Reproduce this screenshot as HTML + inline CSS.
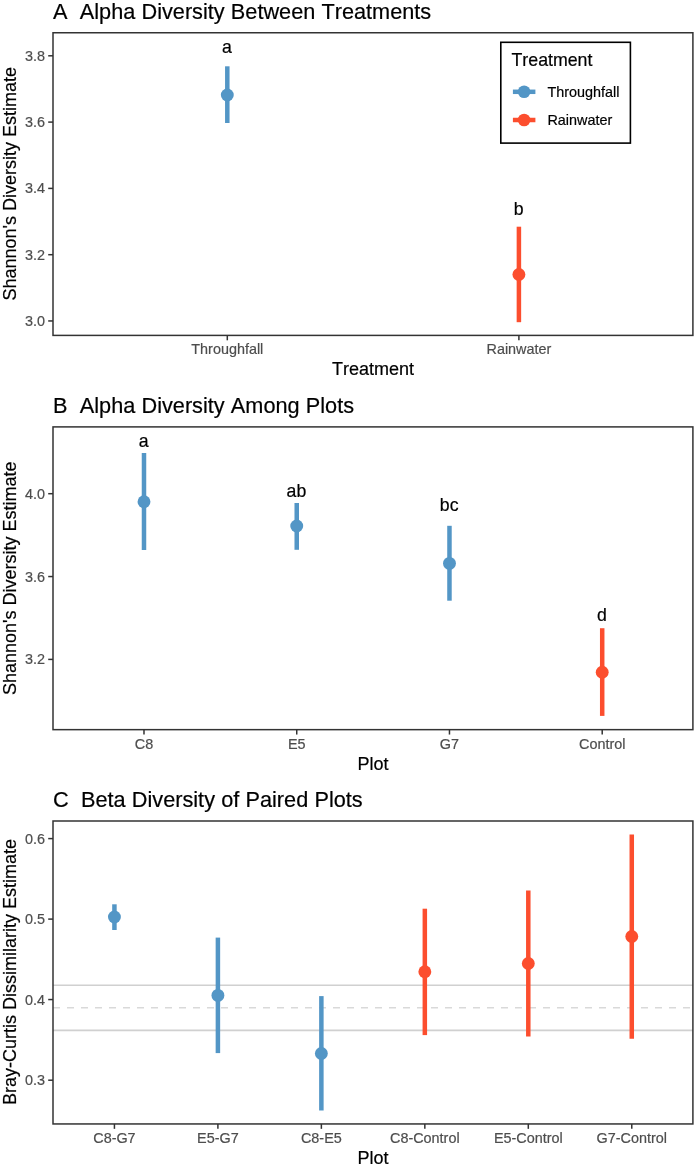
<!DOCTYPE html><html><head><meta charset="utf-8"><title>Diversity</title><style>html,body{margin:0;padding:0;background:#fff}svg{display:block}text{font-kerning:none;stroke-width:0.2px;paint-order:stroke;font-family:"Liberation Sans",sans-serif}</style></head><body>
<svg width="696" height="1167" viewBox="0 0 696 1167">
<rect width="696" height="1167" fill="#fff"/>
<text x="52.9" y="18.9" font-size="21.7" fill="#000" stroke="#000" xml:space="preserve" word-spacing="0.2">A  Alpha Diversity Between Treatments</text>
<line x1="227.3" x2="227.3" y1="66.3" y2="123" stroke="#5396C6" stroke-width="4.5"/>
<circle cx="227.3" cy="95" r="6.45" fill="#5396C6"/>
<line x1="518.9" x2="518.9" y1="226.7" y2="322.2" stroke="#FC4E2E" stroke-width="4.5"/>
<circle cx="518.9" cy="274.5" r="6.45" fill="#FC4E2E"/>
<text x="227.0" y="52.8" font-size="17.7" fill="#000" stroke="#000" text-anchor="middle">a</text>
<text x="518.6" y="215.2" font-size="17.7" fill="#000" stroke="#000" text-anchor="middle">b</text>
<rect x="53.0" y="32.75" width="639.90" height="302.65" fill="none" stroke="#333" stroke-width="1.5"/>
<line x1="48.2" x2="53.0" y1="55.8" y2="55.8" stroke="#333" stroke-width="1.5"/>
<text x="45.0" y="60.85" font-size="14.4" fill="#4D4D4D" stroke="#4D4D4D" text-anchor="end">3.8</text>
<line x1="48.2" x2="53.0" y1="122.1" y2="122.1" stroke="#333" stroke-width="1.5"/>
<text x="45.0" y="127.15" font-size="14.4" fill="#4D4D4D" stroke="#4D4D4D" text-anchor="end">3.6</text>
<line x1="48.2" x2="53.0" y1="188.4" y2="188.4" stroke="#333" stroke-width="1.5"/>
<text x="45.0" y="193.45" font-size="14.4" fill="#4D4D4D" stroke="#4D4D4D" text-anchor="end">3.4</text>
<line x1="48.2" x2="53.0" y1="254.7" y2="254.7" stroke="#333" stroke-width="1.5"/>
<text x="45.0" y="259.75" font-size="14.4" fill="#4D4D4D" stroke="#4D4D4D" text-anchor="end">3.2</text>
<line x1="48.2" x2="53.0" y1="320.95" y2="320.95" stroke="#333" stroke-width="1.5"/>
<text x="45.0" y="326.0" font-size="14.4" fill="#4D4D4D" stroke="#4D4D4D" text-anchor="end">3.0</text>
<line x1="227.3" x2="227.3" y1="335.4" y2="340.29999999999995" stroke="#333" stroke-width="1.5"/>
<text x="227.3" y="354.4" font-size="14.4" fill="#4D4D4D" stroke="#4D4D4D" text-anchor="middle">Throughfall</text>
<line x1="518.9" x2="518.9" y1="335.4" y2="340.29999999999995" stroke="#333" stroke-width="1.5"/>
<text x="518.9" y="354.4" font-size="14.4" fill="#4D4D4D" stroke="#4D4D4D" text-anchor="middle">Rainwater</text>
<text x="373.1" y="375.0" font-size="18" fill="#000" stroke="#000" text-anchor="middle">Treatment</text>
<text transform="translate(16.3,183.8) rotate(-90)" font-size="18" fill="#000" stroke="#000" text-anchor="middle">Shannon's Diversity Estimate</text>
<rect x="500.8" y="42.3" width="129.6" height="100.8" fill="#fff" stroke="#000" stroke-width="1.6"/>
<text x="511.5" y="66.3" font-size="17.75" fill="#000" stroke="#000">Treatment</text>
<line x1="512.9" x2="535.4" y1="91.8" y2="91.8" stroke="#5396C6" stroke-width="4.5"/>
<circle cx="524.1" cy="91.8" r="6.3" fill="#5396C6"/>
<text x="547.4" y="96.8" font-size="14.4" fill="#000" stroke="#000">Throughfall</text>
<line x1="512.9" x2="535.4" y1="120.0" y2="120.0" stroke="#FC4E2E" stroke-width="4.5"/>
<circle cx="524.1" cy="120.0" r="6.3" fill="#FC4E2E"/>
<text x="547.4" y="125.0" font-size="14.4" fill="#000" stroke="#000">Rainwater</text>
<text x="52.9" y="413.1" font-size="21.7" fill="#000" stroke="#000" xml:space="preserve" word-spacing="0.2">B  Alpha Diversity Among Plots</text>
<line x1="143.99" x2="143.99" y1="453" y2="550" stroke="#5396C6" stroke-width="4.5"/>
<circle cx="143.99" cy="501.8" r="6.45" fill="#5396C6"/>
<line x1="296.73" x2="296.73" y1="503" y2="549.8" stroke="#5396C6" stroke-width="4.5"/>
<circle cx="296.73" cy="526" r="6.45" fill="#5396C6"/>
<line x1="449.47" x2="449.47" y1="525.8" y2="600.7" stroke="#5396C6" stroke-width="4.5"/>
<circle cx="449.47" cy="563.4" r="6.45" fill="#5396C6"/>
<line x1="602.21" x2="602.21" y1="628.2" y2="715.9" stroke="#FC4E2E" stroke-width="4.5"/>
<circle cx="602.21" cy="672.2" r="6.45" fill="#FC4E2E"/>
<text x="143.69" y="446.8" font-size="17.7" fill="#000" stroke="#000" text-anchor="middle">a</text>
<text x="296.43" y="496.8" font-size="17.7" fill="#000" stroke="#000" text-anchor="middle">ab</text>
<text x="449.17" y="511.1" font-size="17.7" fill="#000" stroke="#000" text-anchor="middle">bc</text>
<text x="601.91" y="621.2" font-size="17.7" fill="#000" stroke="#000" text-anchor="middle">d</text>
<rect x="53.0" y="426.9" width="639.90" height="302.75" fill="none" stroke="#333" stroke-width="1.5"/>
<line x1="48.2" x2="53.0" y1="493.7" y2="493.7" stroke="#333" stroke-width="1.5"/>
<text x="45.0" y="498.75" font-size="14.4" fill="#4D4D4D" stroke="#4D4D4D" text-anchor="end">4.0</text>
<line x1="48.2" x2="53.0" y1="576.55" y2="576.55" stroke="#333" stroke-width="1.5"/>
<text x="45.0" y="581.6" font-size="14.4" fill="#4D4D4D" stroke="#4D4D4D" text-anchor="end">3.6</text>
<line x1="48.2" x2="53.0" y1="659.4" y2="659.4" stroke="#333" stroke-width="1.5"/>
<text x="45.0" y="664.45" font-size="14.4" fill="#4D4D4D" stroke="#4D4D4D" text-anchor="end">3.2</text>
<line x1="143.99" x2="143.99" y1="729.65" y2="734.55" stroke="#333" stroke-width="1.5"/>
<text x="143.99" y="748.65" font-size="14.4" fill="#4D4D4D" stroke="#4D4D4D" text-anchor="middle">C8</text>
<line x1="296.73" x2="296.73" y1="729.65" y2="734.55" stroke="#333" stroke-width="1.5"/>
<text x="296.73" y="748.65" font-size="14.4" fill="#4D4D4D" stroke="#4D4D4D" text-anchor="middle">E5</text>
<line x1="449.47" x2="449.47" y1="729.65" y2="734.55" stroke="#333" stroke-width="1.5"/>
<text x="449.47" y="748.65" font-size="14.4" fill="#4D4D4D" stroke="#4D4D4D" text-anchor="middle">G7</text>
<line x1="602.21" x2="602.21" y1="729.65" y2="734.55" stroke="#333" stroke-width="1.5"/>
<text x="602.21" y="748.65" font-size="14.4" fill="#4D4D4D" stroke="#4D4D4D" text-anchor="middle">Control</text>
<text x="373.1" y="769.5" font-size="18" fill="#000" stroke="#000" text-anchor="middle">Plot</text>
<text transform="translate(16.3,578.2) rotate(-90)" font-size="18" fill="#000" stroke="#000" text-anchor="middle">Shannon's Diversity Estimate</text>
<text x="52.9" y="807.1" font-size="21.7" fill="#000" stroke="#000" xml:space="preserve" word-spacing="0.2">C  Beta Diversity of Paired Plots</text>
<line x1="53.0" x2="692.9" y1="985.2" y2="985.2" stroke="#D0D0D0" stroke-width="1.6"/>
<line x1="53.0" x2="692.9" y1="1007.7" y2="1007.7" stroke="#D9D9D9" stroke-width="1.4" stroke-dasharray="7 7"/>
<line x1="53.0" x2="692.9" y1="1030.4" y2="1030.4" stroke="#D0D0D0" stroke-width="1.6"/>
<line x1="114.43" x2="114.43" y1="904.3" y2="930" stroke="#5396C6" stroke-width="4.5"/>
<circle cx="114.43" cy="917" r="6.45" fill="#5396C6"/>
<line x1="217.9" x2="217.9" y1="937.6" y2="1053.1" stroke="#5396C6" stroke-width="4.5"/>
<circle cx="217.9" cy="995.4" r="6.45" fill="#5396C6"/>
<line x1="321.37" x2="321.37" y1="996.1" y2="1110.5" stroke="#5396C6" stroke-width="4.5"/>
<circle cx="321.37" cy="1053.5" r="6.45" fill="#5396C6"/>
<line x1="424.83" x2="424.83" y1="908.7" y2="1035.1" stroke="#FC4E2E" stroke-width="4.5"/>
<circle cx="424.83" cy="971.7" r="6.45" fill="#FC4E2E"/>
<line x1="528.3" x2="528.3" y1="890.4" y2="1036.6" stroke="#FC4E2E" stroke-width="4.5"/>
<circle cx="528.3" cy="963.5" r="6.45" fill="#FC4E2E"/>
<line x1="631.77" x2="631.77" y1="834.5" y2="1038.8" stroke="#FC4E2E" stroke-width="4.5"/>
<circle cx="631.77" cy="936.5" r="6.45" fill="#FC4E2E"/>
<rect x="53.0" y="821.0" width="639.90" height="302.95" fill="none" stroke="#333" stroke-width="1.5"/>
<line x1="48.2" x2="53.0" y1="838.6" y2="838.6" stroke="#333" stroke-width="1.5"/>
<text x="45.0" y="843.65" font-size="14.4" fill="#4D4D4D" stroke="#4D4D4D" text-anchor="end">0.6</text>
<line x1="48.2" x2="53.0" y1="919.1" y2="919.1" stroke="#333" stroke-width="1.5"/>
<text x="45.0" y="924.15" font-size="14.4" fill="#4D4D4D" stroke="#4D4D4D" text-anchor="end">0.5</text>
<line x1="48.2" x2="53.0" y1="999.55" y2="999.55" stroke="#333" stroke-width="1.5"/>
<text x="45.0" y="1004.6" font-size="14.4" fill="#4D4D4D" stroke="#4D4D4D" text-anchor="end">0.4</text>
<line x1="48.2" x2="53.0" y1="1080.2" y2="1080.2" stroke="#333" stroke-width="1.5"/>
<text x="45.0" y="1085.25" font-size="14.4" fill="#4D4D4D" stroke="#4D4D4D" text-anchor="end">0.3</text>
<line x1="114.43" x2="114.43" y1="1123.95" y2="1128.8500000000001" stroke="#333" stroke-width="1.5"/>
<text x="114.43" y="1142.95" font-size="14.4" fill="#4D4D4D" stroke="#4D4D4D" text-anchor="middle">C8-G7</text>
<line x1="217.9" x2="217.9" y1="1123.95" y2="1128.8500000000001" stroke="#333" stroke-width="1.5"/>
<text x="217.9" y="1142.95" font-size="14.4" fill="#4D4D4D" stroke="#4D4D4D" text-anchor="middle">E5-G7</text>
<line x1="321.37" x2="321.37" y1="1123.95" y2="1128.8500000000001" stroke="#333" stroke-width="1.5"/>
<text x="321.37" y="1142.95" font-size="14.4" fill="#4D4D4D" stroke="#4D4D4D" text-anchor="middle">C8-E5</text>
<line x1="424.83" x2="424.83" y1="1123.95" y2="1128.8500000000001" stroke="#333" stroke-width="1.5"/>
<text x="424.83" y="1142.95" font-size="14.4" fill="#4D4D4D" stroke="#4D4D4D" text-anchor="middle">C8-Control</text>
<line x1="528.3" x2="528.3" y1="1123.95" y2="1128.8500000000001" stroke="#333" stroke-width="1.5"/>
<text x="528.3" y="1142.95" font-size="14.4" fill="#4D4D4D" stroke="#4D4D4D" text-anchor="middle">E5-Control</text>
<line x1="631.77" x2="631.77" y1="1123.95" y2="1128.8500000000001" stroke="#333" stroke-width="1.5"/>
<text x="631.77" y="1142.95" font-size="14.4" fill="#4D4D4D" stroke="#4D4D4D" text-anchor="middle">G7-Control</text>
<text x="373.1" y="1163.6" font-size="18" fill="#000" stroke="#000" text-anchor="middle">Plot</text>
<text transform="translate(16.3,972) rotate(-90)" font-size="18" fill="#000" stroke="#000" text-anchor="middle">Bray-Curtis Dissimilarity Estimate</text>
</svg></body></html>
